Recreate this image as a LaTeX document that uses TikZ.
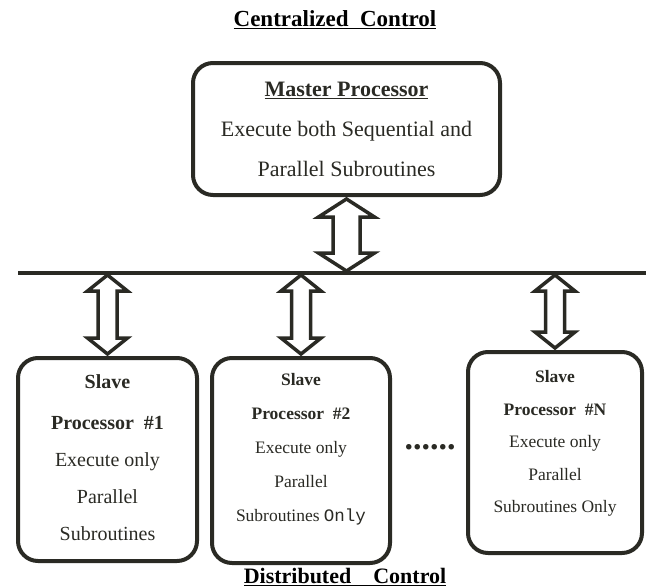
\documentclass[tikz,border=0pt]{standalone}
\usepackage{fontspec}
\setmainfont{Liberation Serif}
\setmonofont{Liberation Mono}
\usetikzlibrary{calc}
\definecolor{ink}{HTML}{2A2A24}

\begin{document}
\begin{tikzpicture}[x=1pt,y=-1pt]

\useasboundingbox (0,0) rectangle (648,587);

%%% Styles

\tikzstyle{box}=[draw=ink, line width=4pt, rounded corners=20pt, inner sep=0pt]
\tikzstyle{twoway}=[draw=ink, line width=3.5pt, line join=miter]
\tikzstyle{slavetext}=[align=center, text=ink]

% Heading

\node (centr) at (335,20) {\fontsize{23}{26}\selectfont\bfseries\underline{Centralized\ \ Control}};

% Master box

\node[box, minimum width=307pt, minimum height=132pt] (master) at (346.5,129) {};
\node[align=center, text=ink, font=\fontsize{22}{40}\selectfont] (mtext) at (master.center)
     {\textbf{\underline{Master Processor}}\\Execute both Sequential and\\Parallel Subroutines};

%%% Slave boxes

\node[box, minimum width=179pt, minimum height=203pt] (s1) at (107.5,459.5) {};
\node[slavetext, font=\fontsize{20}{37}\selectfont] (s1text) at ([yshift=1.5pt]s1.center)
     {\textbf{Slave}\\[4pt]\textbf{Processor\ \ \#1}\\Execute only\\Parallel\\Subroutines};

\node[box, minimum width=178pt, minimum height=205pt] (s2) at (301,460.5) {};
\node[slavetext, font=\fontsize{17.5}{34}\selectfont] (s2text) at ([yshift=11.5pt]s2.center)
     {\textbf{Slave}\\\textbf{Processor\ \ \#2}\\Execute only\\Parallel\\Subroutines {\ttfamily Only}};

\node[box, minimum width=174pt, minimum height=201pt] (s3) at (555,452.5) {};
\node[slavetext, font=\fontsize{17.5}{32.5}\selectfont] (s3text) at ([yshift=9pt]s3.center)
     {\textbf{Slave}\\\textbf{Processor\ \ \#N}\\Execute only\\Parallel\\Subroutines Only};

% Dots between boxes

\node[text=ink] (dots) at (430,447) {\fontsize{34}{34}\selectfont\bfseries ......};

% Bottom heading

\node (distr) at (345,577) {\fontsize{22}{26}\selectfont\bfseries\underline{Distributed\quad Control}};

%%% Bus

\coordinate (busL) at (18,273);
\coordinate (busR) at (646,273);
\draw[draw=ink, line width=4pt] (busL) -- (busR);

\coordinate (b0) at (master.south |- busL);
\coordinate (b1) at (s1.north |- busL);
\coordinate (b2) at (s2.north |- busL);
\coordinate (b3) at (s3.north |- busL);

% Two way arrows

\foreach \a/\b/\hw/\sw/\hl in {master.south/b0/28/13.5/20, b1/s1.north/20/9.5/18,
                               b2/s2.north/20/9.5/18, b3/s3.north/20/9.5/18}
  \draw[twoway] let \p1=(\a), \p2=(\b) in
    (\x1,\y1-2pt) -- (\x1+\hw pt,\y1-\hl pt) -- (\x1+\sw pt,\y1-\hl pt)
    -- (\x1+\sw pt,\y2+\hl pt) -- (\x1+\hw pt,\y2+\hl pt) -- (\x1,\y2+2pt)
    -- (\x1-\hw pt,\y2+\hl pt) -- (\x1-\sw pt,\y2+\hl pt)
    -- (\x1-\sw pt,\y1-\hl pt) -- (\x1-\hw pt,\y1-\hl pt) -- cycle;

\end{tikzpicture}
\end{document}
